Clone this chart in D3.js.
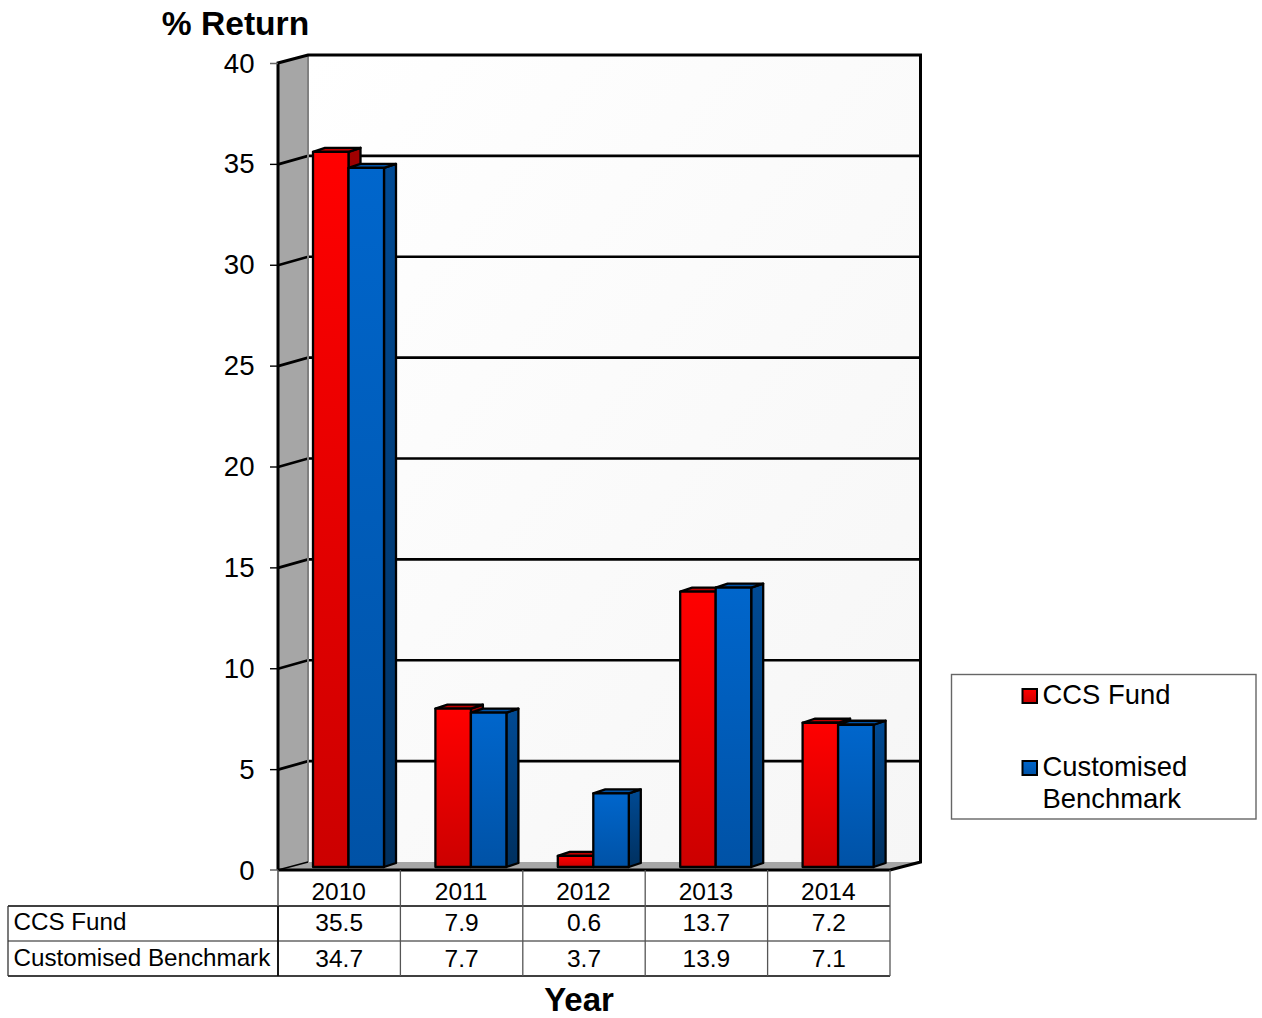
<!DOCTYPE html>
<html><head><meta charset="utf-8">
<style>html,body{margin:0;padding:0;background:#fff}svg{display:block}text{font-family:"Liberation Sans",Arial,sans-serif;fill:#000}</style>
<script src="https://cdn.jsdelivr.net/npm/d3@7"></script></head><body>
<script>
const categories = ["2010","2011","2012","2013","2014"];
const seriesNames = ["CCS Fund","Customised Benchmark"];
const ccsFund = [35.5,7.9,0.6,13.7,7.2];
const customisedBenchmark = [34.7,7.7,3.7,13.9,7.1];
const yTicks = [0,5,10,15,20,25,30,35,40];

const W=1262,H=1018,dx=30,dy=8;
const svg=d3.select("body").append("svg").attr("width",W).attr("height",H);
const defs=svg.append("defs");
function lg(id,a,b,x2,y2){const g=defs.append("linearGradient").attr("id",id).attr("x1",0).attr("y1",0).attr("x2",x2).attr("y2",y2);
 g.append("stop").attr("offset",0).attr("stop-color",a);g.append("stop").attr("offset",1).attr("stop-color",b);}
lg("wall","#ffffff","#f6f6f6",1,1);
lg("red","#ff0000","#cc0000",0,1);
lg("blue","#0066cc","#0052a6",0,1);
lg("redSide","#a00000","#800000",0,1);
lg("blueSide","#004a94","#00305f",0,1);

const x=d3.scaleBand().domain(categories).range([278,890]);
const y=d3.scaleLinear().domain([0,40]).range([870,63]);
const inner=d3.scaleBand().domain(seriesNames).range([35,106]);
const k="#000";

// back wall
svg.append("rect").attr("x",278+dx).attr("y",y(40)-dy).attr("width",x.range()[1]-x.range()[0]+2).attr("height",y(0)-y(40)).attr("fill","url(#wall)");
// floor + side wall
svg.append("path").attr("d",`M278,${y(0)}L${278+dx},${y(0)-dy}H920L890,${y(0)}Z`).attr("fill","#a6a6a6");
svg.append("path").attr("d",`M278,${y(0)}V${y(40)}L${278+dx},${y(40)-dy}V${y(0)-dy}Z`).attr("fill","#a6a6a6");
// gridlines
const grid=svg.append("g");
yTicks.filter(t=>t>0&&t<40).forEach(t=>{
 grid.append("path").attr("d",`M278,${y(t)+.5}L${278+dx},${y(t)-dy}H920`).attr("fill","none").attr("stroke",k).attr("stroke-width",2.6);
 grid.append("line").attr("x1",270).attr("x2",278).attr("y1",y(t)+.5).attr("y2",y(t)+.5).attr("stroke",k).attr("stroke-width",1.4);
});
// frame
svg.append("path").attr("d",`M${278+dx},${y(40)-dy}V${y(0)-dy}`).attr("fill","none").attr("stroke","#808080").attr("stroke-width",2);
svg.append("path").attr("d",`M${278+dx},${y(0)-dy}L278,${y(0)}`).attr("fill","none").attr("stroke",k).attr("stroke-width",1.5);
svg.append("path").attr("d",`M278,${y(0)}V${y(40)}L${278+dx},${y(40)-dy}H920.5V${y(0)-dy}L890,${y(0)}H278`).attr("fill","none").attr("stroke",k).attr("stroke-width",3);
svg.append("path").attr("d",`M270,${y(40)+.5}H278M270,${y(0)}H278`).attr("stroke","#666").attr("stroke-width",1.6);

// y tick labels
svg.append("g").selectAll("text").data(yTicks).join("text")
 .attr("x",254.5).attr("y",d=>y(d)+9.5).attr("text-anchor","end").attr("font-size",27.6).text(d=>d);

// bars
const barBase=3, bw=inner.bandwidth(), bdx=12, bdy=4;
function drawBars(vals,name,front,side){
 const g=svg.append("g");
 vals.forEach((v,i)=>{
  const l=x(categories[i])+inner(name), r=l+bw, t=y(v)-barBase+1, b=y(0)-barBase;
  const c=g.append("g").attr("stroke",k).attr("stroke-width",2.3).attr("stroke-linejoin","round");
  c.append("path").attr("d",`M${r},${t}L${r+bdx},${t-bdy}V${b-bdy}L${r},${b}Z`).attr("fill",`url(#${side})`);
  c.append("path").attr("d",`M${l},${t}L${l+bdx},${t-bdy}H${r+bdx}L${r},${t}Z`).attr("fill",side==="redSide"?"#c00000":"#0052a6");
  c.append("rect").attr("x",l).attr("y",t).attr("width",bw).attr("height",b-t).attr("fill",`url(#${front})`);
 });
}
drawBars(ccsFund,seriesNames[0],"red","redSide");
drawBars(customisedBenchmark,seriesNames[1],"blue","blueSide");

// titles
svg.append("text").attr("x",235.5).attr("y",35).attr("text-anchor","middle").attr("font-weight","bold").attr("font-size",33.6).text("% Return");
svg.append("text").attr("x",579).attr("y",1011).attr("text-anchor","middle").attr("font-weight","bold").attr("font-size",33).text("Year");

// data table
const rowY=[870,906,941,976], tbl=svg.append("g");
const edges=x.domain().map(d=>x(d)).concat([890]);
const line=(x1,y1,x2,y2,c="#000",w=1.3)=>tbl.append("line").attr("x1",x1).attr("y1",y1).attr("x2",x2).attr("y2",y2).attr("stroke",c).attr("stroke-width",w);
line(8,rowY[1],890,rowY[1],"#000",1.5);
line(8,rowY[2],890,rowY[2],"#666",1.6);
line(8,rowY[3],890,rowY[3],"#000",1.5);
line(8,rowY[1],8,rowY[3],"#333");
edges.forEach((e,i)=>line(e,rowY[0],e,rowY[3],i===0?"#555":"#555",i===0?1.6:1.3));
line(278,rowY[1],278,rowY[3],"#000",1.6);
categories.forEach((c,i)=>{
 const cx=x(c)+x.bandwidth()/2;
 tbl.append("text").attr("x",cx-.5).attr("y",900).attr("text-anchor","middle").attr("font-size",24.5).text(c);
 tbl.append("text").attr("x",cx).attr("y",931).attr("text-anchor","middle").attr("font-size",24.5).text(ccsFund[i].toFixed(1));
 tbl.append("text").attr("x",cx).attr("y",967).attr("text-anchor","middle").attr("font-size",24.5).text(customisedBenchmark[i].toFixed(1));
});
tbl.append("text").attr("x",13.5).attr("y",930).attr("font-size",24.2).text(seriesNames[0]);
tbl.append("text").attr("x",13.5).attr("y",966).attr("font-size",24.2).text(seriesNames[1]);

// legend
svg.append("rect").attr("x",951.5).attr("y",674.5).attr("width",304.5).attr("height",144.5).attr("fill","#fff").attr("stroke","#666").attr("stroke-width",1.4);
const lgd=[{f:"red",y:689,lines:[seriesNames[0]],ty:[704]},{f:"blue",y:761,lines:["Customised","Benchmark"],ty:[776,808]}];
lgd.forEach(d=>{
 svg.append("rect").attr("x",1022.5).attr("y",d.y).attr("width",14.5).attr("height",14).attr("fill",`url(#${d.f})`).attr("stroke",k).attr("stroke-width",2);
 d.lines.forEach((t,i)=>svg.append("text").attr("x",1042.5).attr("y",d.ty[i]).attr("font-size",27.4).text(t));
});
</script></body></html>
